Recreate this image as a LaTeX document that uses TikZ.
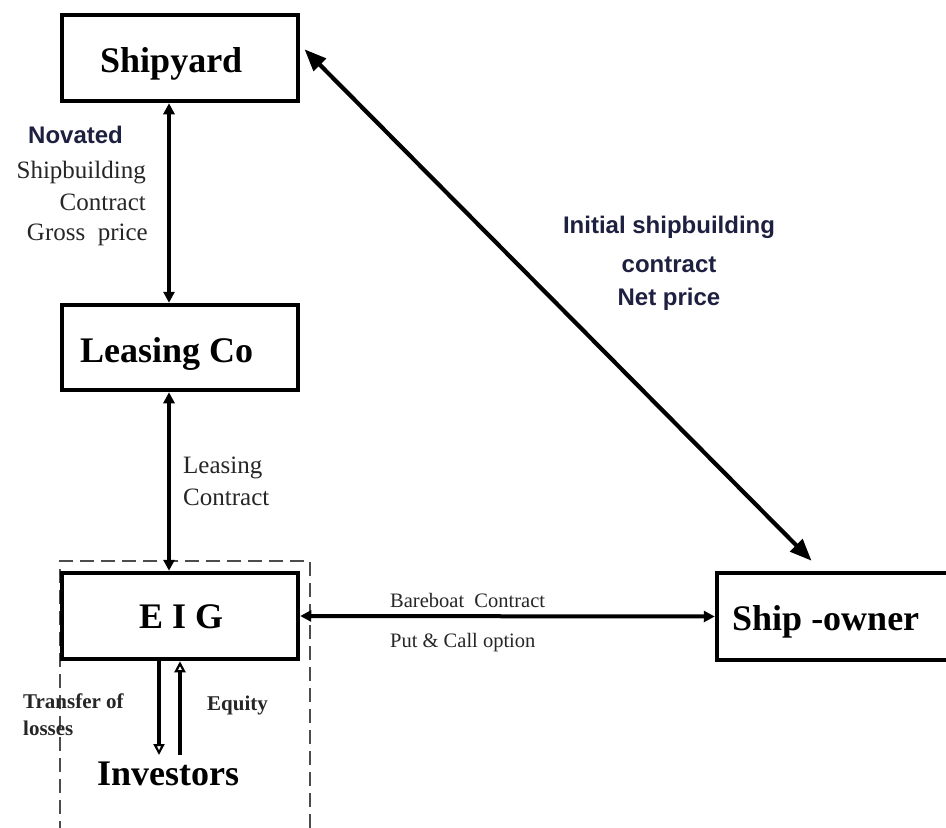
\documentclass[tikz,border=0pt]{standalone}
\usepackage{fontspec}
\setmainfont{Liberation Serif}
\newfontfamily\arialfont{Liberation Sans}
\usetikzlibrary{arrows.meta}
\definecolor{navytext}{RGB}{30,32,64}
\begin{document}
\begin{tikzpicture}[x=1pt,y=-1pt,
  box/.style={draw=black, line width=4.5pt, minimum width=236pt, minimum height=86pt, inner sep=0pt, fill=white},
  boxlabel/.style={font=\fontsize{36}{40}\selectfont\bfseries, inner sep=0pt},
  serlabel/.style={font=\fontsize{25}{30}\selectfont, inner sep=0pt, text=black!85},
  smallser/.style={font=\fontsize{20.5}{24}\selectfont, inner sep=0pt, text=black!85},
  boldsmall/.style={font=\fontsize{21}{25}\selectfont\bfseries, inner sep=0pt, text=black!85},
  navylabel/.style={font=\arialfont\fontsize{24}{28}\selectfont\bfseries, text=navytext, inner sep=0pt},
  link/.style={line width=4pt, {Triangle[length=11pt,width=11pt]}-{Triangle[length=11pt,width=11pt]}},
  biglink/.style={line width=4.2pt, {Triangle[length=22pt,width=17pt]}-{Triangle[length=22pt,width=17pt]}},
  invarrow/.style={line width=3.5pt, -{Triangle[open,length=11pt,width=11pt,line width=2.2pt]}},
  groupbox/.style={draw=black!70, line width=2.4pt, dash pattern=on 14pt off 7pt, minimum width=250pt, minimum height=290pt, inner sep=0pt}
]
\useasboundingbox (0,0) rectangle (946,828);
\fill[white] (0,0) rectangle (946,828);

% dashed group around EIG and investors
\node[groupbox] (eiggroup) at (185,706) {};

% boxes
\node[box] (shipyard) at (180,58) {};
\node[box, minimum height=85pt] (leasing) at (180,347.5) {};
\node[box] (eig) at (180,616) {};
\node[box, minimum width=243pt, minimum height=87pt] (shipowner) at (838.5,616.5) {};

% box labels
\node[boxlabel, anchor=base west] (tshipyard) at (100,72) {Shipyard};
\node[boxlabel, anchor=base west] (tleasing) at (80,362) {Leasing Co};
\node[boxlabel, anchor=base west] (teig) at (139,628) {E I G};
\node[boxlabel, anchor=base west] (tshipowner) at (732,630) {Ship -owner};
\node[boxlabel, anchor=base west] (tinvestors) at (97,785) {Investors};

% coordinates for investor arrows
\coordinate (invdown) at (159,755);
\coordinate (invup) at (180,755);

% connectors
\draw[link] ([xshift=-11pt]shipyard.south) -- ([xshift=-11pt]leasing.north);
\draw[link] ([xshift=-11pt]leasing.south) -- ([xshift=-11pt]eig.north);
\draw[link] (eig.east) -- (shipowner.west);
\draw[biglink, shorten <=6pt, shorten >=14pt] ([yshift=13pt]shipyard.east) -- ([xshift=-17pt]shipowner.north);
\draw[invarrow] ([xshift=-21pt]eig.south) -- (invdown);
\draw[invarrow] (invup) -- (eig.south);

% connector labels
\node[navylabel, anchor=base west] (lnovated) at (28,143) {Novated};
\node[serlabel, anchor=base east] (lship1) at (146,178) {Shipbuilding};
\node[serlabel, anchor=base east] (lship2) at (146,210) {Contract};
\node[serlabel, anchor=base east] (lship3) at (148,240) {Gross\ \ price};

\node[serlabel, anchor=base west] (llease1) at (183,473) {Leasing};
\node[serlabel, anchor=base west] (llease2) at (183,505) {Contract};

\node[navylabel, anchor=base] (linit1) at (669,233) {Initial shipbuilding};
\node[navylabel, anchor=base] (linit2) at (669,272) {contract};
\node[navylabel, anchor=base] (linit3) at (669,305) {Net price};

\node[smallser, anchor=base west] (lbare1) at (390,607) {Bareboat\ \ Contract};
\node[smallser, anchor=base west] (lbare2) at (390,647) {Put \& Call option};

\node[boldsmall, anchor=base west] (ltrans1) at (23,708) {Transfer of};
\node[boldsmall, anchor=base west] (ltrans2) at (23,735) {losses};
\node[boldsmall, anchor=base west] (lequity) at (207,710) {Equity};
\end{tikzpicture}
\end{document}
